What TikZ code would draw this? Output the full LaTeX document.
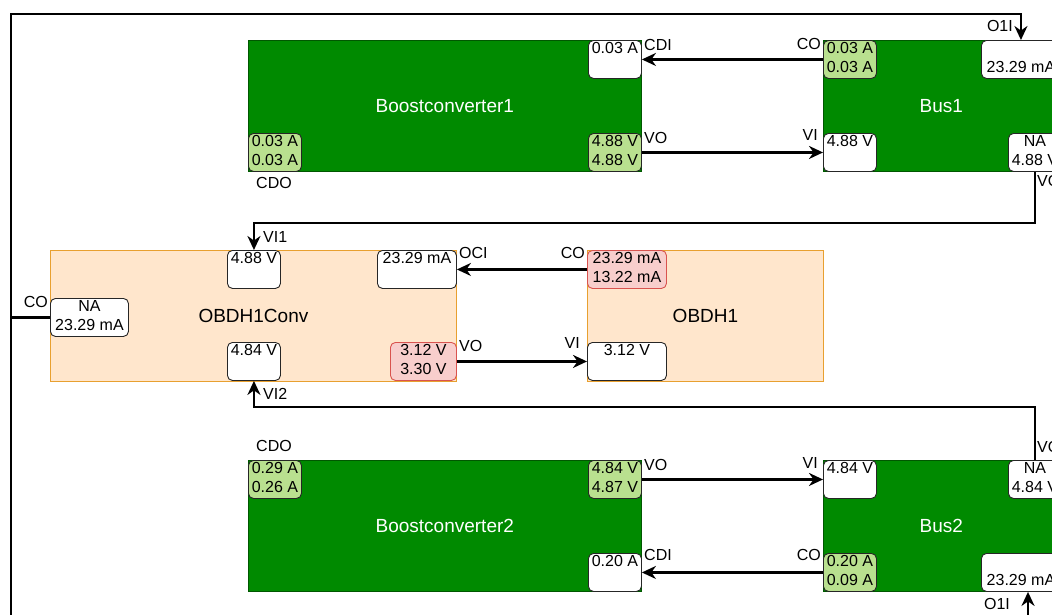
\documentclass[tikz,border=0pt]{standalone}
\usepackage{fontspec}
\setmainfont{Liberation Sans}
\usetikzlibrary{arrows.meta}
\definecolor{dgreen}{HTML}{008A00}
\definecolor{dgreenb}{HTML}{005700}
\definecolor{lgreen}{HTML}{B9E08F}
\definecolor{orfill}{HTML}{FFE6CC}
\definecolor{orline}{HTML}{E8A030}
\definecolor{pkfill}{HTML}{F8CECC}
\definecolor{pkline}{HTML}{D9534F}
\begin{document}
\begin{tikzpicture}[x=1pt,y=-1pt,
  gcomp/.style={rectangle, draw=dgreenb, fill=dgreen, line width=0.6pt, anchor=north west,
    minimum height=131pt, inner sep=0pt, text=white, font=\fontsize{19}{22}\selectfont},
  ocomp/.style={rectangle, draw=orline, fill=orfill, line width=0.9pt, anchor=north west,
    minimum height=131pt, inner sep=0pt, text=black, font=\fontsize{19}{22}\selectfont},
  port/.style={rectangle, draw=black!85, line width=0.9pt, rounded corners=5pt, anchor=north west,
    minimum height=38pt, inner sep=0pt, align=center, text=black, font=\fontsize{16}{18.5}\selectfont},
  wport/.style={port, fill=white},
  gport/.style={port, fill=lgreen},
  pport/.style={port, fill=pkfill, draw=pkline},
  lbl/.style={inner sep=0pt, text=black, font=\fontsize{16}{18}\selectfont},
  wire/.style={line width=2.8pt},
  conn/.style={line width=2.8pt, -{Stealth[length=14pt,width=13pt]}}
]
\useasboundingbox (0,0) rectangle (1052,614);
\fill[white] (0,0) rectangle (1052,614);

% main components
\node[gcomp, minimum width=393pt] (boost1) at (248,40) {Boostconverter1};
\node[gcomp, minimum width=236pt] (bus1) at (823,40) {Bus1};
\node[ocomp, minimum width=406pt] (conv) at (50,250) {OBDH1Conv};
\node[ocomp, minimum width=236pt] (obdh) at (587,250) {OBDH1};
\node[gcomp, minimum width=393pt] (boost2) at (248,460) {Boostconverter2};
\node[gcomp, minimum width=236pt] (bus2) at (823,460) {Bus2};

% Boostconverter1 ports
\node[wport, minimum width=53pt] (b1cdi) at (588,40) {\strut 0.03 A\\\strut};
\node[gport, minimum width=53pt] (b1vo) at (588,133) {\strut 4.88 V\\\strut 4.88 V};
\node[gport, minimum width=53pt] (b1cdo) at (248,133) {\strut 0.03 A\\\strut 0.03 A};
% Bus1 ports
\node[gport, minimum width=53pt] (bus1co) at (823,40) {\strut 0.03 A\\\strut 0.03 A};
\node[wport, minimum width=53pt] (bus1vi) at (823,133) {\strut 4.88 V\\\strut};
\node[wport, minimum width=79pt] (bus1o1i) at (981,40) {\strut\\\strut 23.29 mA};
\node[wport, minimum width=53pt] (bus1na) at (1008,133) {\strut NA\\\strut 4.88 V};
% OBDH1Conv ports
\node[wport, minimum width=78pt] (convco) at (50,298) {\strut NA\\\strut 23.29 mA};
\node[wport, minimum width=53pt] (vi1) at (227,250) {\strut 4.88 V\\\strut};
\node[wport, minimum width=53pt] (vi2) at (227,342) {\strut 4.84 V\\\strut};
\node[wport, minimum width=79pt] (convoci) at (377,250) {\strut 23.29 mA\\\strut};
\node[pport, minimum width=66pt] (convvo) at (390,342) {\strut 3.12 V\\\strut 3.30 V};
% OBDH1 ports
\node[pport, minimum width=79pt] (obdhco) at (587,250) {\strut 23.29 mA\\\strut 13.22 mA};
\node[wport, minimum width=79pt] (obdhvi) at (587,342) {\strut 3.12 V\\\strut};
% Boostconverter2 ports
\node[gport, minimum width=53pt] (b2cdo) at (248,460) {\strut 0.29 A\\\strut 0.26 A};
\node[gport, minimum width=53pt] (b2vo) at (588,460) {\strut 4.84 V\\\strut 4.87 V};
\node[wport, minimum width=53pt] (b2cdi) at (588,553) {\strut 0.20 A\\\strut};
% Bus2 ports
\node[wport, minimum width=53pt] (bus2vi) at (823,460) {\strut 4.84 V\\\strut};
\node[wport, minimum width=53pt] (bus2na) at (1008,460) {\strut NA\\\strut 4.84 V};
\node[gport, minimum width=53pt] (bus2co) at (823,553) {\strut 0.20 A\\\strut 0.09 A};
\node[wport, minimum width=79pt] (bus2o1i) at (981,553) {\strut\\\strut 23.29 mA};

% port labels
\node[lbl, anchor=west] (lb1cdi) at (644,45) {CDI};
\node[lbl, anchor=west] (lb1vo) at (644,138) {VO};
\node[lbl] (lb1cdo) at (274,183) {CDO};
\node[lbl, anchor=east] (lbus1co) at (821,44) {CO};
\node[lbl, anchor=east] (lbus1vi) at (818,135) {VI};
\node[lbl, anchor=east] (lbus1o1i) at (1013,26) {O1I};
\node[lbl, anchor=west] (lbus1vo) at (1037,181) {VO};
\node[lbl, anchor=east] (lconvco) at (48,302) {CO};
\node[lbl, anchor=west] (lvi1) at (263,237) {VI1};
\node[lbl, anchor=west] (lvi2) at (263,394) {VI2};
\node[lbl, anchor=west] (loci) at (459,253) {OCI};
\node[lbl, anchor=west] (lconvvo) at (459,346) {VO};
\node[lbl, anchor=east] (lobdhco) at (585,253) {CO};
\node[lbl, anchor=east] (lobdhvi) at (580,343) {VI};
\node[lbl] (lb2cdo) at (274,446) {CDO};
\node[lbl, anchor=west] (lb2vo) at (644,465) {VO};
\node[lbl, anchor=west] (lb2cdi) at (644,555) {CDI};
\node[lbl, anchor=east] (lbus2vi) at (818,463) {VI};
\node[lbl, anchor=west] (lbus2vo) at (1037,447) {VO};
\node[lbl, anchor=east] (lbus2co) at (821,555) {CO};
\node[lbl] (lbus2o1i) at (997,604) {O1I};

% connectors
\coordinate (lt) at (11,14);
\coordinate (lb) at (11,630);
\coordinate (rb) at (1028,630);
\draw[conn] (bus1co.west) -- (b1cdi.east);
\draw[conn] (b1vo.east) -- (bus1vi.west);
\draw[conn] (obdhco.west) -- (convoci.east);
\draw[conn] (convvo.east) -- (obdhvi.west);
\draw[conn] (b2vo.east) -- (bus2vi.west);
\draw[conn] (bus2co.west) -- (b2cdi.east);
\draw[conn] (bus1na.south) -- ++(0,51) -| (vi1.north);
\draw[conn] (bus2na.north) -- ++(0,-53) -| (vi2.south);
\draw[conn] (convco.west) -| (lt) -| (bus1o1i.north);
\draw[wire] (convco.west) -| (lb);
\draw[conn] (rb) -- (rb |- bus2o1i.south);
\end{tikzpicture}
\end{document}
